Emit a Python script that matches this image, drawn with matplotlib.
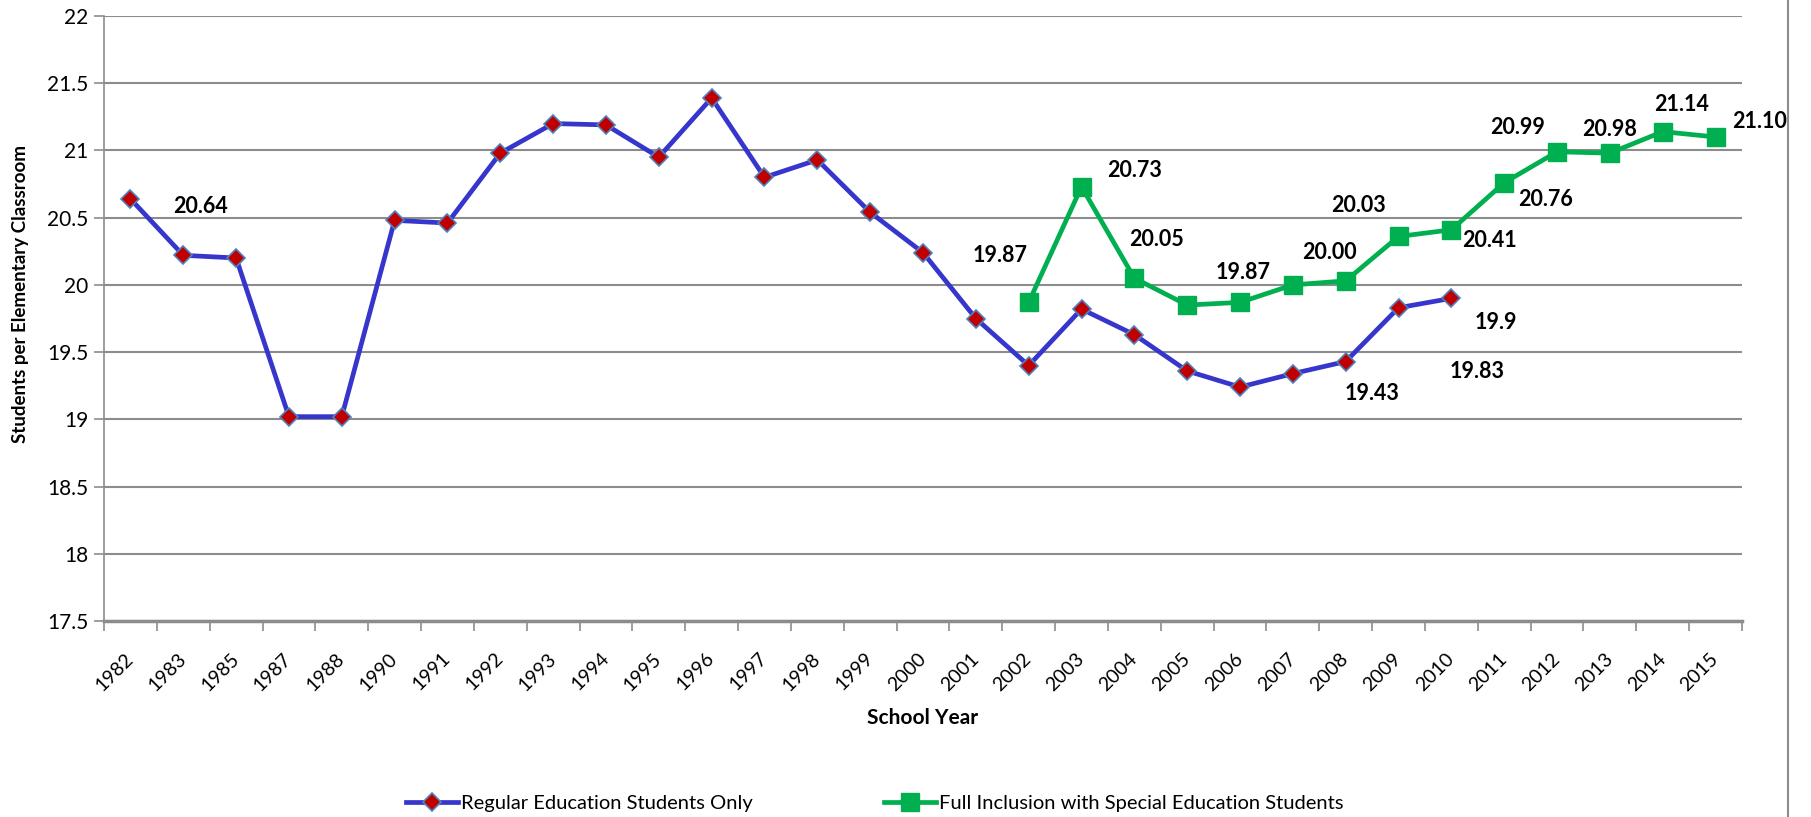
import numpy as np
import matplotlib
matplotlib.use("Agg")
import matplotlib.pyplot as plt
from matplotlib.lines import Line2D

plt.rcParams['font.family'] = ['Lato', 'DejaVu Sans']

# school years (category axis)
years = ['1982', '1983', '1985', '1987', '1988', '1990', '1991', '1992', '1993',
         '1994', '1995', '1996', '1997', '1998', '1999', '2000', '2001', '2002',
         '2003', '2004', '2005', '2006', '2007', '2008', '2009', '2010', '2011',
         '2012', '2013', '2014', '2015']

regular = [20.64, 20.22, 20.20, 19.02, 19.02, 20.48, 20.46, 20.98, 21.20, 21.19,
           20.95, 21.39, 20.80, 20.93, 20.54, 20.24, 19.75, 19.40, 19.82, 19.63,
           19.36, 19.24, 19.34, 19.43, 19.83, 19.90]

inclusion_years = years[17:]
inclusion = [19.87, 20.73, 20.05, 19.85, 19.87, 20.00, 20.03, 20.36, 20.41, 20.76,
             20.99, 20.98, 21.14, 21.10]

# data labels: (year, text, offset in pixels)
labels_reg = [('1982', '20.64', (70, -8)),
              ('2008', '19.43', (26, -32)),
              ('2009', '19.83', (79, -64)),
              ('2010', '19.9', (44, -24))]
labels_inc = [('2002', '19.87', (-29, 47)),
              ('2003', '20.73', (53, 16)),
              ('2004', '20.05', (22, 39)),
              ('2006', '19.87', (3, 30)),
              ('2007', '20.00', (37, 32)),
              ('2008', '20.03', (13, 75)),
              ('2010', '20.41', (38, -11)),
              ('2011', '20.76', (41, -17)),
              ('2012', '20.99', (-40, 24)),
              ('2013', '20.98', (0, 24)),
              ('2014', '21.14', (19, 27)),
              ('2015', '21.10', (44, 15))]

fig = plt.figure(figsize=(18.11, 8.17), dpi=100)
ax = fig.add_axes([104/1811, 1-621/817, (1742-104)/1811, (621-16)/817])

x_reg = np.arange(len(regular))
x_inc = np.arange(len(inclusion)) + years.index('2002')

ax.plot(x_reg, regular, color='#3636CC', lw=3.4, marker='D', ms=9.5,
        mfc='#C00000', mec='#4F81BD', mew=1.2, zorder=3,
        label='Regular Education Students Only')
ax.plot(x_inc, inclusion, color='#00B050', lw=3.4, marker='s', ms=12.5,
        mfc='#00B050', mec='#00B050', zorder=3,
        label='Full Inclusion with Special Education Students')

for yr, txt, (dx, dy) in labels_reg:
    i = years.index(yr)
    ax.annotate(txt, (i, regular[i]), xytext=(dx, dy), textcoords='offset pixels',
                ha='center', va='center', fontsize=15.5, fontweight='bold',
                annotation_clip=False)
for yr, txt, (dx, dy) in labels_inc:
    i = inclusion_years.index(yr)
    ax.annotate(txt, (x_inc[i], inclusion[i]), xytext=(dx, dy), textcoords='offset pixels',
                ha='center', va='center', fontsize=15.5, fontweight='bold',
                annotation_clip=False)

ax.set_xlim(-0.5, len(years) - 0.5)
ax.set_ylim(17.5, 22)
ax.set_yticks(np.arange(17.5, 22.01, 0.5))
ax.set_yticklabels(['17.5', '18', '18.5', '19', '19.5', '20', '20.5', '21', '21.5', '22'])
ax.yaxis.grid(True, color='#8c8c8c', lw=1.5)
ax.set_axisbelow(True)

ax.set_xticks(np.arange(-0.5, len(years), 1.0))
ax.set_xticklabels([])
ax.set_xticks(np.arange(len(years)), minor=True)
ax.set_xticklabels(years, minor=True, rotation=45, ha='right', va='center',
                   rotation_mode='anchor', fontsize=14)
ax.tick_params(axis='x', which='minor', length=0, pad=25)
ax.tick_params(axis='x', which='major', length=7, color='#8c8c8c', width=1.2)
ax.tick_params(axis='y', length=7, color='#8c8c8c', width=1.2, labelsize=15, pad=4)

for s in ['top', 'right']:
    ax.spines[s].set_visible(False)
ax.spines['left'].set_color('#8c8c8c')
ax.spines['left'].set_linewidth(1.2)
ax.spines['bottom'].set_color('#8c8c8c')
ax.spines['bottom'].set_linewidth(2.5)

ax.set_xlabel('School Year', fontsize=15, fontweight='bold', labelpad=10)
ax.set_ylabel('Students per Elementary Classroom', fontsize=13.5, fontweight='bold')
ax.yaxis.set_label_coords(-0.046, 0.54)

fig.legend(loc='center', bbox_to_anchor=(875/1811, 1-803/817), ncol=2, frameon=False,
           fontsize=14.5, handlelength=2.6, columnspacing=6.5, handletextpad=0.15)

# chart area border on the right
fig.add_artist(Line2D([1788/1811, 1788/1811], [0, 1], color='#8c8c8c', lw=1.5))

fig.savefig('out.png', dpi=100)
